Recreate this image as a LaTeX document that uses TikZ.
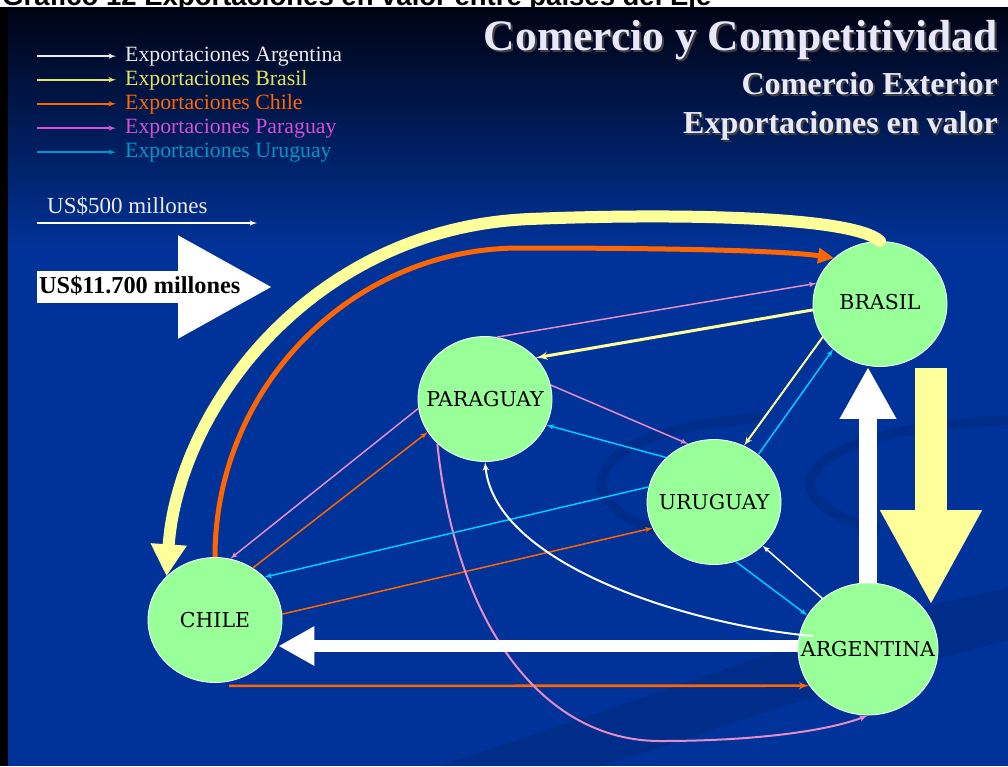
\documentclass[tikz,border=0pt]{standalone}
\usepackage{fontspec}
\setmainfont{Liberation Serif}
\newfontfamily\hdrfont{Liberation Sans}
\newfontfamily\ctyfont{DejaVu Serif}
\usetikzlibrary{shapes.geometric, arrows, arrows.meta}

\definecolor{bgblue}{RGB}{0,51,153}
\definecolor{bgtop}{RGB}{0,3,20}
\definecolor{bgdark}{RGB}{0,38,125}
\definecolor{nodegreen}{RGB}{153,255,153}
\definecolor{paleyellow}{RGB}{255,255,153}
\definecolor{chorange}{RGB}{255,102,0}
\definecolor{pypink}{RGB}{230,140,200}
\definecolor{uycyan}{RGB}{0,204,255}
\definecolor{titlecol}{RGB}{232,232,250}
\definecolor{legarg}{RGB}{235,235,235}
\definecolor{legbra}{RGB}{228,228,100}
\definecolor{legchi}{RGB}{255,102,0}
\definecolor{legpar}{RGB}{212,80,212}
\definecolor{leguru}{RGB}{0,150,205}

\newcommand{\tshadow}[1]{\rlap{\kern2pt\raisebox{-2pt}{\textcolor{black!75}{#1}}}#1}

\begin{document}
\begin{tikzpicture}[x = 1pt, y = -1pt,
  country/.style = {shape = ellipse, draw = white, line width = 0.8pt, fill = nodegreen,
    minimum width = 134pt, minimum height = 125pt, inner sep = 0pt,
    font = \ctyfont\fontsize{20.5}{24}\selectfont},
  legtext/.style = {anchor = base west, inner sep = 0pt, font = \fontsize{21.8}{26}\selectfont},
  thintip/.style = {line width = 1.5pt, -latex'},
  titletext/.style = {anchor = base east, inner sep = 0pt, text = titlecol,
    font = \bfseries\fontsize{#1}{#1}\selectfont}]

\useasboundingbox (0, 0) rectangle (1008, 766);

% background
\fill [white] (0, 0) rectangle (1008, 7);
\fill [black] (0, 7) rectangle (1008, 766);
\shade [top color = bgtop, bottom color = bgblue] (8, 7) rectangle (1008, 250);
\fill [bgblue] (8, 249) rectangle (1008, 766);
\path [draw, bgdark, line width = 10pt, opacity = 0.5] (760, 418) .. controls (560, 430) and (560, 520) .. (700, 540);
\path [draw, bgdark, line width = 10pt, opacity = 0.5] (1008, 420) .. controls (790, 430) and (760, 500) .. (880, 530);
\fill [bgdark, opacity = 0.5] (440, 766) .. controls (700, 680) and (850, 620) .. (1008, 588) -- (1008, 640) .. controls (850, 680) and (720, 730) .. (600, 766) -- cycle;

\begin{scope}
\clip (0, 0) rectangle (1008, 7);
\node [anchor = base west, inner sep = 0pt, font = \hdrfont\bfseries\fontsize{27.5}{30}\selectfont] (hdr) at (2, 5) {Gráfico 12 Exportaciones en valor entre países del Eje};
\end{scope}

% titles
\node [titletext = 43.5] (tit0) at (998, 50) {\tshadow{Comercio y Competitividad}};
\node [titletext = 32] (tit1) at (998, 94) {\tshadow{Comercio Exterior}};
\node [titletext = 32] (tit2) at (998, 133) {\tshadow{Exportaciones en valor}};

% legend
\foreach \pais/\col [count = \i from 0] in {Argentina/legarg, Brasil/legbra, Chile/legchi, Paraguay/legpar, Uruguay/leguru} {
  \node [legtext, text = \col] (ley\i) at (125, 61 + 24 * \i) {Exportaciones \pais};
  \path [draw, thintip, \col] ([xshift = -88pt] ley\i.west) -- ([xshift = -9pt] ley\i.west);
}

% scale
\node [legtext, text = legarg, font = \fontsize{23}{27}\selectfont] (u500) at (47, 213) {US\$500 millones};
\coordinate (s500a) at (37, 223);
\coordinate (s500b) at (257, 223);
\path [draw, thintip, white] (s500a) -- (s500b);

\coordinate (big0) at (37, 287);
\coordinate (big1) at (273, 287);
\path [draw, white, line width = 32pt, -{Triangle[length = 95pt, width = 96pt]}] (big0) -- (big1);
\node [anchor = base west, inner sep = 0pt, font = \bfseries\fontsize{24.3}{28}\selectfont] (u11700) at (39, 293) {US\$11.700 millones};

% countries
\node [country] (bra) at (880, 304) {\makebox[0pt]{\raisebox{4pt}{BRASIL}}};
\node [country] (par) at (485, 399) {\makebox[0pt]{PARAGUAY}};
\node [country] (uru) at (714, 502) {\makebox[0pt]{\raisebox{-4pt}{URUGUAY}}};
\node [country] (chi) at (215, 620) {\makebox[0pt]{\raisebox{-2pt}{CHILE}}};
\node [country, minimum width = 140pt, minimum height = 132pt] (arg) at (868, 649) {\makebox[0pt]{ARGENTINA}};

% Brasil
\path [draw, paleyellow, line width = 12pt, line cap = round, -{Triangle[length = 32pt, width = 34pt]}] (bra.north) .. controls (850, 214) and (650, 214) .. (530, 219) .. controls (310, 228) and (178, 410) .. (chi.138);
\path [draw, paleyellow, line width = 3pt, -latex'] (bra.185) -- (par.39);
\path [draw, paleyellow, line width = 2pt, -latex'] (bra.210) -- (uru.62);
\coordinate (bdown) at (931, 368);
\coordinate (adown) at (931, 605);
\path [draw, paleyellow, line width = 32pt, -{Triangle[length = 95pt, width = 95pt]}] (bdown) -- (adown);

% Chile
\path [draw, chorange, line width = 5pt, -{Triangle[length = 16pt, width = 15pt]}] (chi.north) .. controls (215, 387) and (352, 248) .. (520, 248) .. controls (650, 248) and (780, 250) .. (bra.135);
\path [draw, chorange, thintip] (chi.54) -- (par.210);
\path [draw, chorange, thintip] (chi.5) -- (uru.203);
\path [draw, chorange, line width = 2.6pt, -latex'] ([shift = {(14pt, -3pt)}] chi.south) -- (arg.212);

% Paraguay
\path [draw, pypink, thintip] (par.79) -- (bra.162);
\path [draw, pypink, thintip] (par.12) -- (uru.114);
\path [draw, pypink, thintip] (par.188) -- (chi.76);
\path [draw, pypink, line width = 2pt, -latex'] (par.223) .. controls (455, 620) and (540, 741) .. (660, 741) .. controls (760, 741) and (830, 730) .. (arg.south);

% Uruguay
\path [draw, uycyan, thintip] (uru.47) -- (bra.224);
\path [draw, uycyan, thintip] (uru.137) -- (par.337);
\path [draw, uycyan, thintip] (uru.167) -- (chi.41);
\path [draw, uycyan, thintip] (uru.290) -- (arg.151);

% Argentina
\path [draw, white, line width = 18pt, -{Triangle[length = 52pt, width = 53pt]}] (arg.north) -- (arg.north |- bra.south);
\coordinate (aw) at ([yshift = 3pt] arg.west);
\path [draw, white, line width = 12.5pt, shorten > = -4pt, -{Triangle[length = 36pt, width = 37pt]}] (aw) -- (aw -| chi.east);
\coordinate (argin) at ([shift = {(15pt, 13pt)}] arg.west);
\path [draw, white, line width = 2pt, -latex'] (argin) .. controls (690, 625) and (495, 565) .. (par.south);
\path [draw, white, thintip] (arg.132) -- (uru.318);
\end{tikzpicture}
\end{document}
